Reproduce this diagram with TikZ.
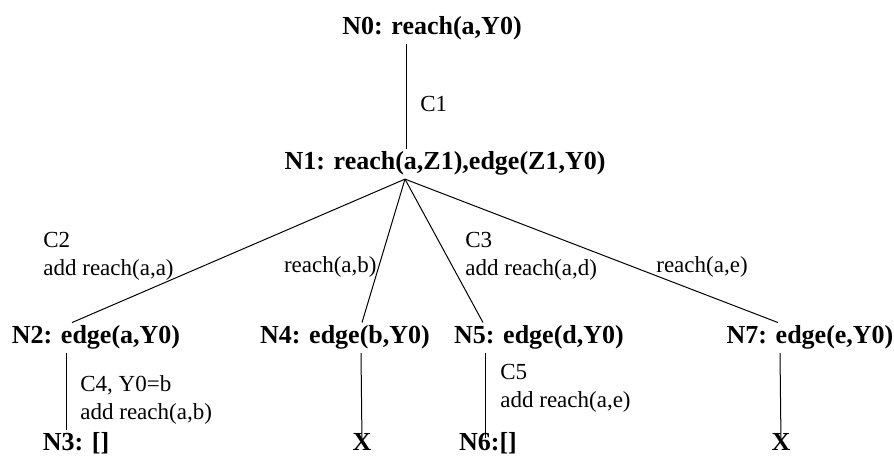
\documentclass[tikz,border=0pt]{standalone}
\usepackage{fontspec}
\setmainfont{Liberation Serif}
\usepackage{tikz}
\usetikzlibrary{positioning}

\begin{document}
\begin{tikzpicture}[
    x=0.5pt, y=-0.5pt,
    goal/.style={anchor=base, inner sep=1.5pt,
                 font=\fontsize{13}{15}\selectfont\bfseries},
    note/.style={align=left, inner sep=0pt,
                 font=\fontsize{11.5}{14}\selectfont},
    link/.style={draw=black, line width=0.5pt},
]
\useasboundingbox (0,0) rectangle (894,458);

\node[goal] (n0) at (432,35) {N0: reach(a,Y0)};
\node[goal] (n1) at (445,170) {N1: reach(a,Z1),edge(Z1,Y0)};

\node[goal] (n2) at (96,344) {N2: edge(a,Y0)};
\node[goal] (n4) at (345,344) {N4: edge(b,Y0)};
\node[goal] (n5) at (539,344) {N5: edge(d,Y0)};
\node[goal] (n7) at (810,344) {N7: edge(e,Y0)};

\node[goal] (n3) at (76,451) {N3: []};
\node[goal] (x4) at (362,451) {X};
\node[goal] (n6) at (488,451) {N6:[]};
\node[goal] (x7) at (781,451) {X};

% clause labels
\node[note, anchor=west] (c1) at (420,104) {C1};
\node[note, anchor=west] (c2) at (43,256) {C2\\add reach(a,a)};
\node[note, anchor=east] (rb) at (377,267) {reach(a,b)};
\node[note, anchor=west] (c3) at (465,256) {C3\\add reach(a,d)};
\node[note] (re) at (702,267) {reach(a,e)};
\node[note, anchor=west] (c4) at (80,400) {C4, Y0=b\\add reach(a,b)};
\node[note, anchor=west] (c5) at (500,388) {C5\\add reach(a,e)};

\draw[link] ([xshift=-13pt]n0.south) -- ([xshift=-19.5pt]n1.north);

\draw[link] ([xshift=-20pt]n1.south) -- ([xshift=-12pt]n2.north);
\draw[link] ([xshift=-20pt]n1.south) -- ([xshift=8.5pt]n4.north);
\draw[link] ([xshift=-20pt]n1.south) -- ([xshift=-28pt]n5.north);
\draw[link] ([xshift=-20pt]n1.south) -- ([xshift=-16pt]n7.north);

\draw[link] ([xshift=-15pt]n2.south) -- ([xshift=-5pt]n3.north);
\draw[link] ([xshift=8pt]n4.south) -- (x4.center);
\draw[link] ([xshift=-27pt]n5.south) -- ([xshift=-1.5pt,yshift=-4pt]n6.north);
\draw[link] ([xshift=-15pt]n7.south) -- (x7.center);

\end{tikzpicture}
\end{document}
